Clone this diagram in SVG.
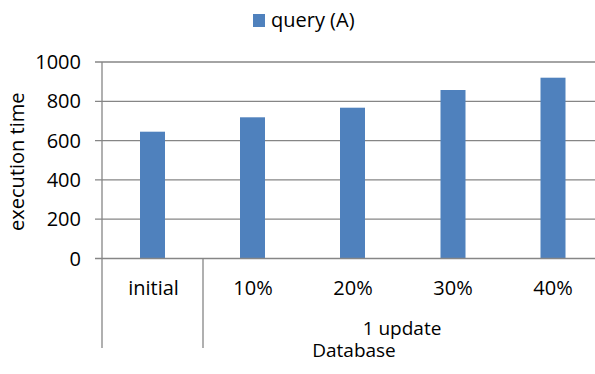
<svg xmlns="http://www.w3.org/2000/svg" width="595" height="374" viewBox="0 0 595 374">
  <style>
    text { font-family: "Open Sans", "Liberation Sans", sans-serif; font-size: 20px; fill: #000; }
    .grid { stroke: #868686; stroke-width: 1.3; fill: none; }
    .axis { stroke: #868686; stroke-width: 1.3; fill: none; }
    .bar { fill: #4F81BD; }
    .ylab { text-anchor: end; }
    .cat { text-anchor: middle; }
    .small { font-size: 19px; }
  </style>
  <rect width="595" height="374" fill="#fff"/>
  <g id="legend">
    <rect class="bar" x="253" y="14" width="12" height="13"/>
    <text x="271" y="27">query (A)</text>
  </g>
  <g id="gridlines">
    <line class="grid" x1="95" y1="62" x2="595" y2="62"/>
    <line class="grid" x1="95" y1="101.3" x2="595" y2="101.3"/>
    <line class="grid" x1="95" y1="140.6" x2="595" y2="140.6"/>
    <line class="grid" x1="95" y1="179.9" x2="595" y2="179.9"/>
    <line class="grid" x1="95" y1="219.2" x2="595" y2="219.2"/>
  </g>
  <g id="bars">
    <rect class="bar" x="140" y="131.7" width="25" height="126.8"/>
    <rect class="bar" x="240" y="117.3" width="25" height="141.2"/>
    <rect class="bar" x="340" y="107.7" width="25" height="150.8"/>
    <rect class="bar" x="440.5" y="90" width="25" height="168.5"/>
    <rect class="bar" x="540.5" y="77.7" width="25" height="180.8"/>
  </g>
  <g id="axes">
    <line class="axis" x1="95" y1="258.5" x2="595" y2="258.5"/>
    <line class="axis" x1="102" y1="62" x2="102" y2="348"/>
    <line class="axis" x1="203" y1="258.5" x2="203" y2="348"/>
  </g>
  <g id="y-labels">
    <text class="ylab" x="81" y="69">1000</text>
    <text class="ylab" x="81" y="108.3">800</text>
    <text class="ylab" x="81" y="147.6">600</text>
    <text class="ylab" x="81" y="186.9">400</text>
    <text class="ylab" x="81" y="226.2">200</text>
    <text class="ylab" x="81" y="265.5">0</text>
  </g>
  <g id="x-labels">
    <text class="cat" x="153.5" y="295">initial</text>
    <text class="cat" x="253" y="295">10%</text>
    <text class="cat" x="353" y="295">20%</text>
    <text class="cat" x="453" y="295">30%</text>
    <text class="cat" x="553" y="295">40%</text>
    <text class="cat small" x="402" y="334.5">1 update</text>
  </g>
  <g id="axis-titles">
    <text class="cat small" x="354" y="357">Database</text>
    <text class="cat" transform="translate(24,161.7) rotate(-90)" x="0" y="0">execution time</text>
  </g>
</svg>
